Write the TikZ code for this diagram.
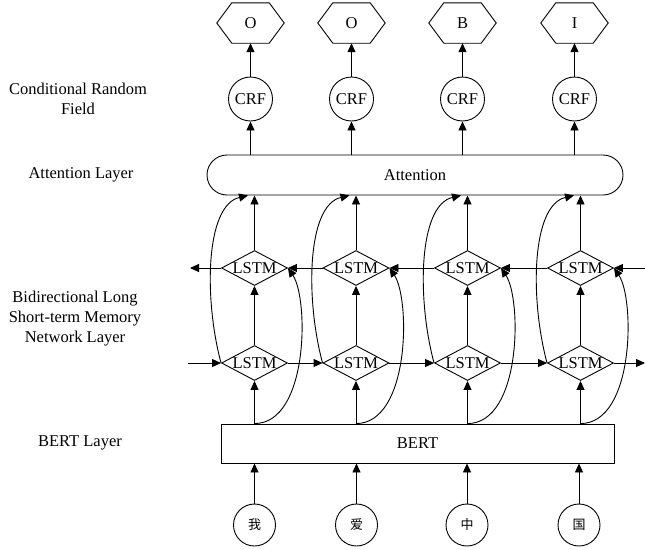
\documentclass[tikz,border=0pt]{standalone}
\usepackage{fontspec}
\setmainfont{Liberation Serif}
\newfontfamily\cjkfont{Noto Sans CJK SC}
\usetikzlibrary{arrows.meta,shapes.geometric}
\newcommand\hexdraw[1]{\draw[line] (#1.west) -- ([xshift=15pt]#1.north west) -- ([xshift=-15pt]#1.north east) -- (#1.east) -- ([xshift=-15pt]#1.south east) -- ([xshift=15pt]#1.south west) -- cycle;}
\begin{document}
\begin{tikzpicture}[x=1pt,y=-1pt,
  every node/.style={font=\fontsize{16.5}{20}\selectfont},
  line/.style={line width=0.9pt},
  arr/.style={line width=0.9pt,-{Triangle[length=9pt,width=8pt]}},
  crf/.style={circle,draw,line width=0.9pt,minimum size=44pt,inner sep=0pt},
  inp/.style={circle,draw,line width=0.9pt,minimum size=42pt,inner sep=0pt,font=\cjkfont\fontsize{13}{13}\selectfont},
  lstm/.style={diamond,draw,line width=0.9pt,minimum width=66pt,minimum height=35pt,inner sep=0pt,label={center:LSTM}},
  hexbox/.style={minimum width=67pt,minimum height=40pt,inner sep=0pt},
  lab/.style={align=center}
]
\fill[white] (0,0) rectangle (645,549);
\useasboundingbox (0,0) rectangle (645,549);

% left labels
\node[lab] (lcrf) at (78,99) {Conditional Random\\Field};
\node[lab] (latt) at (81,175) {Attention Layer};
\node[lab] (llstm) at (75,319) {Bidirectional Long\\Short-term Memory\\Network Layer};
\node[lab] (lbert) at (80,443) {BERT Layer};

% output hexagons
\node[hexbox] (h1) at (250.5,23) {O};
\node[hexbox] (h2) at (351.5,23) {O};
\node[hexbox] (h3) at (462.5,23) {B};
\node[hexbox] (h4) at (574.5,23) {I};
\foreach \i in {1,...,4} {\hexdraw{h\i}}

% CRF
\node[crf] (c1) at (250.5,99) {CRF};
\node[crf] (c2) at (351.5,99) {CRF};
\node[crf] (c3) at (462.5,99) {CRF};
\node[crf] (c4) at (574.5,99) {CRF};

% attention
\node[draw,line,rounded corners=20pt,minimum width=416pt,minimum height=40pt,inner sep=0pt] (att) at (415,175) {Attention};

% LSTMs
\node[lstm] (u1) at (254.5,268) {};
\node[lstm] (u2) at (356,268) {};
\node[lstm] (u3) at (467.5,268) {};
\node[lstm] (u4) at (580.5,268) {};
\node[lstm] (l1) at (254.5,363) {};
\node[lstm] (l2) at (356,363) {};
\node[lstm] (l3) at (467.5,363) {};
\node[lstm] (l4) at (580.5,363) {};

% BERT
\node[draw,line,minimum width=393pt,minimum height=39pt,inner sep=0pt] (bert) at (417.5,443.5) {BERT};

% inputs
\node[inp] (i1) at (254.5,525) {我};
\node[inp] (i2) at (356.5,525) {爱};
\node[inp] (i3) at (467,525) {中};
\node[inp] (i4) at (579,525) {国};

% chain end coordinates
\coordinate (fin) at (188,363);
\coordinate (fout) at (645,363);
\coordinate (bin) at (645,268);
\coordinate (bout) at (190,268);

\foreach \i in {1,...,4} {
  \draw[arr] (c\i.north) -- (h\i.south);
  \draw[arr] (c\i |- att.north) -- (c\i.south);
  \draw[arr] (u\i.north) -- (u\i.north |- att.south);
  \draw[arr] (l\i.north) -- (u\i.south);
  \draw[arr] (l\i |- bert.north) -- (l\i.south);
  \draw[arr] (i\i.north) -- (i\i.north |- bert.south);
  \path (u\i.north |- att.south) ++(-6.5,0) coordinate (bt\i);
  \draw[arr] (l\i.west) .. controls +(-17,-63) and +(-43,10) .. (bt\i);
  \draw[arr] (l\i |- bert.north) .. controls +(54,0) and +(21,31) .. (u\i.east);
}

% forward chain
\draw[arr] (fin) -- (l1.west);
\draw[arr] (l1.east) -- (l2.west);
\draw[arr] (l2.east) -- (l3.west);
\draw[arr] (l3.east) -- (l4.west);
\draw[arr] (l4.east) -- (fout);
% backward chain
\draw[arr] (bin) -- (u4.east);
\draw[arr] (u4.west) -- (u3.east);
\draw[arr] (u3.west) -- (u2.east);
\draw[arr] (u2.west) -- (u1.east);
\draw[arr] (u1.west) -- (bout);
\end{tikzpicture}
\end{document}
